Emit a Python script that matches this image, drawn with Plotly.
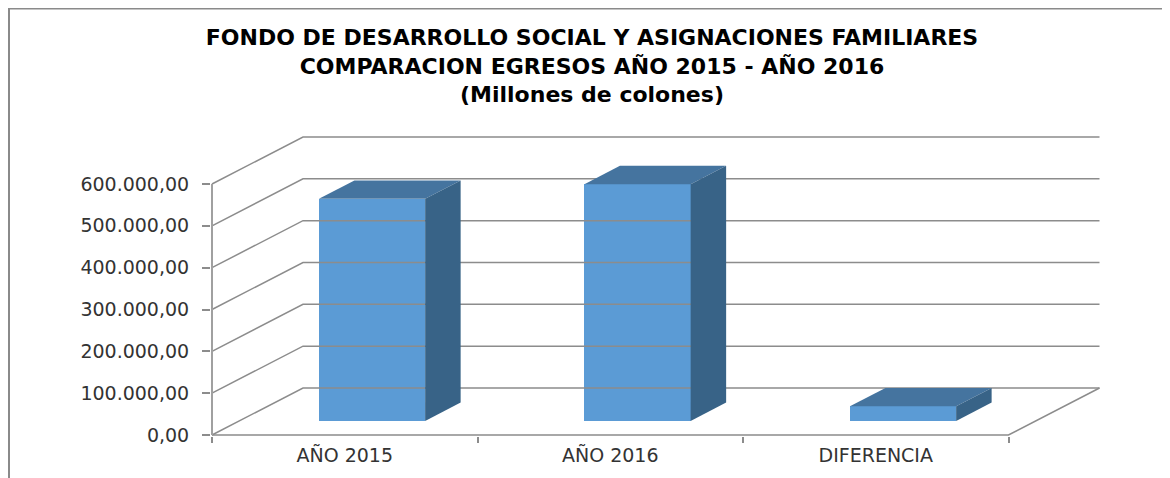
import plotly.graph_objects as go

# ---------------- data ----------------
categories = ["AÑO 2015", "AÑO 2016", "DIFERENCIA"]
values = [531000, 566000, 35000]
y_tick_values = [0, 100000, 200000, 300000, 400000, 500000, 600000]
y_tick_labels = ["0,00", "100.000,00", "200.000,00", "300.000,00",
                 "400.000,00", "500.000,00", "600.000,00"]
title_lines = ["FONDO DE DESARROLLO SOCIAL Y ASIGNACIONES FAMILIARES",
               "COMPARACION EGRESOS AÑO 2015 - AÑO 2016",
               "(Millones de colones)"]

# ---------------- style / geometry ----------------
OFF = 8                     # page body margin of the html page
W, H = 1170 - OFF, 478 - OFF
ML, MR, MT, MB = 203, 60, 122, 42
PX_CAT = 265.5              # pixels per category
PX_Y = 41.833 / 100000      # pixels per value unit
DX = 91 / PX_CAT            # depth offset (x units)
DY = 47 / PX_Y              # depth offset (value units)
F0, F1 = 0.30, 0.69         # bar depth positions (fraction of depth)
BW = 0.4                    # bar width (category units)
GRID = "#8c8c8c"
FRONT, TOP, SIDE = "#5B9BD5", "#45749F", "#386387"
FONT = "DejaVu Sans"

n = len(categories)
x0, x1 = -0.5, n - 0.5
plot_w = W - ML - MR
plot_h = H - MT - MB
xr = [x0 - 1 / PX_CAT, x0 + (plot_w - 1) / PX_CAT]
yr = [-1 / PX_Y, (plot_h - 1) / PX_Y]

fig = go.Figure()

# walls: gridlines on left wall + back wall
gx, gy = [], []
for v in y_tick_values:
    gx += [x0, x0 + DX, x1 + DX, None]
    gy += [v, v + DY, v + DY, None]
# floor edges
gx += [x0, x1, x1 + DX, None]
gy += [0, 0, DY, None]
fig.add_trace(go.Scatter(x=gx, y=gy, mode="lines",
                         line=dict(color=GRID, width=1.5),
                         hoverinfo="skip", showlegend=False))
# front vertical axis line (0 .. max tick)
fig.add_trace(go.Scatter(x=[x0, x0], y=[y_tick_values[0], y_tick_values[-1]],
                         mode="lines", line=dict(color="#a0a0a0", width=2),
                         hoverinfo="skip", showlegend=False))

# 3D faces of the bars computed from the values
ddx, ddy = (F1 - F0) * DX, (F1 - F0) * DY
for i, v in enumerate(values):
    base = F0 * DY
    left = i - BW / 2 + F0 * DX
    right = i + BW / 2 + F0 * DX
    top = base + v
    fig.add_trace(go.Scatter(
        x=[left, left + ddx, right + ddx, right, left],
        y=[top, top + ddy, top + ddy, top, top],
        mode="lines", fill="toself", fillcolor=TOP,
        line=dict(width=0, color=TOP), hoverinfo="skip", showlegend=False))
    fig.add_trace(go.Scatter(
        x=[right, right + ddx, right + ddx, right, right],
        y=[base, base + ddy, top + ddy, top, base],
        mode="lines", fill="toself", fillcolor=SIDE,
        line=dict(width=0, color=SIDE), hoverinfo="skip", showlegend=False))

# front faces of the bars
fig.add_trace(go.Bar(
    x=[i + F0 * DX for i in range(n)], y=values,
    base=[F0 * DY] * n, width=[BW] * n,
    marker=dict(color=FRONT, line=dict(width=0)),
    showlegend=False, hovertext=categories))

fig.update_layout(
    width=W, height=H,
    margin=dict(l=ML, r=MR, t=MT, b=MB),
    paper_bgcolor="white", plot_bgcolor="white",
    title=dict(text="<br>".join(title_lines),
               font=dict(family=FONT, size=22, color="black", weight="bold"),
               x=584 / W, xanchor="center", xref="container",
               y=1 - 37 / H, yanchor="top", yref="container"),
    xaxis=dict(range=xr, tickmode="array", tickvals=list(range(n)),
               ticktext=categories, ticks="", showgrid=False,
               zeroline=False, showline=False, ticklabelstandoff=6,
               tickfont=dict(family=FONT, size=19, color="#333333"),
               minor=dict(tickmode="array",
                          tickvals=[i - 0.5 for i in range(n + 1)],
                          ticks="outside", ticklen=6, tickwidth=1.5,
                          tickcolor=GRID, showgrid=False)),
    yaxis=dict(range=yr, tickmode="array", tickvals=y_tick_values,
               ticktext=y_tick_labels, ticks="outside", ticklen=8,
               tickwidth=1.5, tickcolor=GRID, showgrid=False,
               zeroline=False, showline=False, ticklabelstandoff=9,
               tickfont=dict(family=FONT, size=19, color="#333333")),
    bargap=0,
    shapes=[dict(type="rect", xref="paper", yref="paper",
                 x0=(1 - ML) / plot_w, x1=(W + 10 - ML) / plot_w,
                 y0=(H - MB - (H + 10)) / plot_h, y1=(H - MB - 0.5) / plot_h,
                 line=dict(color="#8a8a8a", width=2), layer="below")],
)

fig.write_html("out.html")
